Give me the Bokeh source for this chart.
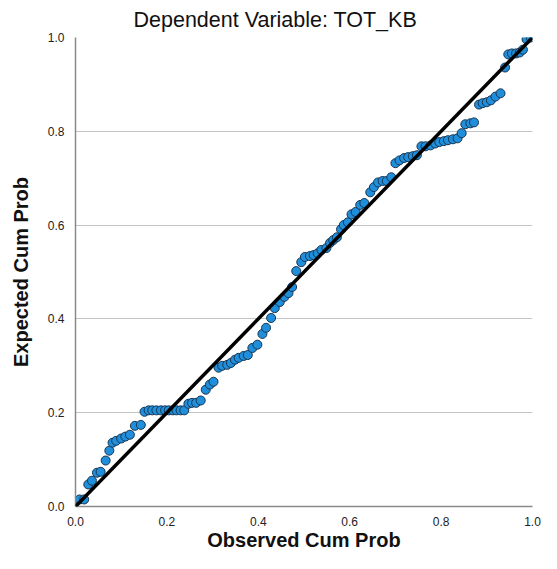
from bokeh.plotting import figure
from bokeh.models import Range1d, FixedTicker, Slope, Title, PrintfTickFormatter
from bokeh.embed import file_html
from bokeh.resources import INLINE

observed = [0.009, 0.019, 0.028, 0.036, 0.047, 0.055, 0.066, 0.074, 0.081, 0.089,
            0.100, 0.109, 0.119, 0.130, 0.143, 0.151,
            0.160, 0.168, 0.177, 0.187, 0.196, 0.204, 0.213, 0.221, 0.230, 0.238,
            0.247, 0.255, 0.264, 0.274, 0.285, 0.294, 0.302, 0.313, 0.321, 0.332,
            0.340, 0.349, 0.357, 0.368, 0.377, 0.387, 0.398, 0.409, 0.417, 0.428,
            0.436, 0.447, 0.457, 0.466, 0.474, 0.483, 0.494, 0.502, 0.513, 0.521,
            0.530, 0.538, 0.549, 0.557, 0.564, 0.572, 0.581, 0.587, 0.596, 0.604,
            0.613, 0.623, 0.632, 0.645, 0.653, 0.662, 0.672, 0.681, 0.691, 0.700,
            0.709, 0.719, 0.728, 0.738, 0.747, 0.757, 0.766, 0.777, 0.787, 0.796,
            0.806, 0.815, 0.826, 0.836, 0.845, 0.853, 0.864, 0.872, 0.883, 0.891,
            0.900, 0.909, 0.919, 0.930, 0.940, 0.947, 0.955, 0.964, 0.972, 0.979,
            0.987, 0.996]
expected = [0.015, 0.015, 0.047, 0.055, 0.072, 0.074, 0.098, 0.119, 0.136, 0.140,
            0.145, 0.149, 0.153, 0.172, 0.174, 0.202,
            0.205, 0.205, 0.205, 0.205, 0.205, 0.205, 0.205, 0.205, 0.205, 0.205,
            0.219, 0.221, 0.221, 0.226, 0.249, 0.260, 0.266, 0.296, 0.300, 0.302,
            0.306, 0.313, 0.317, 0.321, 0.323, 0.338, 0.345, 0.368, 0.381, 0.402,
            0.423, 0.436, 0.447, 0.455, 0.468, 0.502, 0.521, 0.532, 0.534, 0.536,
            0.540, 0.547, 0.551, 0.562, 0.568, 0.574, 0.591, 0.600, 0.606, 0.623,
            0.628, 0.643, 0.647, 0.670, 0.681, 0.691, 0.694, 0.694, 0.702, 0.732,
            0.738, 0.743, 0.745, 0.747, 0.749, 0.768, 0.768, 0.770, 0.774, 0.777,
            0.779, 0.781, 0.783, 0.785, 0.796, 0.815, 0.817, 0.819, 0.857, 0.860,
            0.862, 0.866, 0.874, 0.881, 0.936, 0.964, 0.966, 0.966, 0.968, 0.974,
            0.996, 1.000]
ticks = [0.0, 0.2, 0.4, 0.6, 0.8, 1.0]

p = figure(width=541, height=553, output_backend="svg", toolbar_location=None,
           x_range=Range1d(0, 1), y_range=Range1d(0, 1),
           min_border_left=75, min_border_right=9, min_border_top=37, min_border_bottom=46)
p.title = Title(text="Dependent Variable: TOT_KB", align="left", offset=58,
                text_font="Liberation Sans", text_font_size="21.5px",
                text_font_style="normal", text_color="#111111", standoff=11)
p.outline_line_color = None
p.background_fill_color = "white"

for ax in (p.xaxis[0], p.yaxis[0]):
    ax.ticker = FixedTicker(ticks=ticks)
    ax.formatter = PrintfTickFormatter(format="%.1f")
    ax.major_tick_line_color = None
    ax.minor_tick_line_color = None
    ax.axis_line_color = "#8a8a8a"
    ax.axis_line_width = 1.5
    ax.major_label_text_font = "Liberation Sans"
    ax.major_label_text_font_size = "12px"
    ax.major_label_text_color = "#222222"
    ax.axis_label_text_font = "Liberation Sans"
    ax.axis_label_text_font_style = "bold"
    ax.axis_label_text_color = "#111111"
    ax.axis_label_text_font_size = "20px"
    ax.major_label_standoff = 5

p.xaxis.axis_label = "Observed Cum Prob"
p.yaxis.axis_label = "Expected Cum Prob"
p.xaxis.major_label_standoff = 4
p.xaxis.axis_label_standoff = 0
p.yaxis.axis_label_standoff = 13

p.xgrid.grid_line_color = None
p.ygrid.ticker = FixedTicker(ticks=ticks)
p.ygrid.grid_line_color = "#c4c4c4"
p.ygrid.grid_line_width = 1

p.scatter(observed, expected, size=9, fill_color="#1f8fdc",
          line_color="#1a3550", line_width=1)
p.add_layout(Slope(gradient=1, y_intercept=0, line_color="black", line_width=3.5))

open("out.html", "w").write(file_html(p, INLINE))
